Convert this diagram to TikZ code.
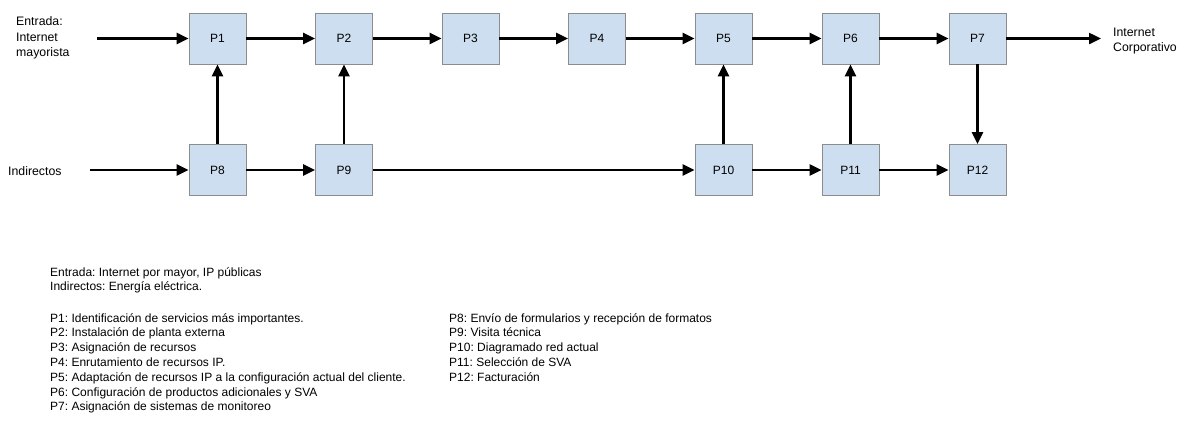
\documentclass[tikz,border=0pt]{standalone}
\usepackage{fontspec}
\setmainfont{Liberation Sans}
\usetikzlibrary{arrows.meta}
\definecolor{boxfill}{RGB}{205,222,240}
\definecolor{boxline}{RGB}{140,140,140}
\frenchspacing
\begin{document}
\begin{tikzpicture}[x=1pt,y=-1pt,
  proc/.style={draw=boxline,line width=0.8pt,fill=boxfill,minimum width=57pt,minimum height=51pt,
    inner sep=0pt,font=\fontsize{12}{14}\selectfont},
  flow/.style={line width=2.4pt,-{Triangle[length=12pt,width=11pt]}},
  lbl/.style={anchor=west,align=left,inner sep=0pt,font=\fontsize{12.3}{15.5}\selectfont},
  note/.style={anchor=north west,align=left,inner sep=0pt,font=\fontsize{12}{14.8}\selectfont}]
\useasboundingbox (0,0) rectangle (1178,421);

% process boxes, upper row
\node[proc] (P1) at (217.5,38.5) {P1};
\node[proc] (P2) at (344,38.5) {P2};
\node[proc] (P3) at (470.5,38.5) {P3};
\node[proc] (P4) at (597,38.5) {P4};
\node[proc] (P5) at (723.5,38.5) {P5};
\node[proc] (P6) at (850.5,38.5) {P6};
\node[proc] (P7) at (977.5,38.5) {P7};
% process boxes, lower row
\node[proc] (P8) at (217.5,170) {P8};
\node[proc] (P9) at (344,170) {P9};
\node[proc] (P10) at (723.5,170) {P10};
\node[proc] (P11) at (850.5,170) {P11};
\node[proc] (P12) at (977.5,170) {P12};

% inputs and output
\node[lbl] (inA) at (16,38) {Entrada:\\Internet\\mayorista};
\node[lbl] (inB) at (8,171) {Indirectos};
\node[lbl] (outA) at (1113,41) {Internet\\Corporativo};
\coordinate (sA) at (97,38.5);
\coordinate (sB) at (90,170);
\coordinate (eA) at (1101,38.5);

\draw[flow] (sA) -- (P1);
\draw[flow] (sB) -- (P8);
\draw[flow] (P7) -- (eA);

% main flow
\draw[flow] (P1) -- (P2);
\draw[flow] (P2) -- (P3);
\draw[flow] (P3) -- (P4);
\draw[flow] (P4) -- (P5);
\draw[flow] (P5) -- (P6);
\draw[flow] (P6) -- (P7);
\draw[flow] (P8) -- (P9);
\draw[flow] (P9) -- (P10);
\draw[flow] (P10) -- (P11);
\draw[flow] (P11) -- (P12);
% vertical links
\draw[flow] (P8) -- (P1);
\draw[flow] (P9) -- (P2);
\draw[flow] (P10) -- (P5);
\draw[flow] (P11) -- (P6);
\draw[flow] (P7) -- (P12);

% legend
\node[note] (legA) at (50,267) {Entrada: Internet por mayor, IP públicas\\Indirectos: Energía eléctrica.};
\node[note] (legB) at (50,313) {P1: Identificación de servicios más importantes.\\
P2: Instalación de planta externa\\
P3: Asignación de recursos\\
P4: Enrutamiento de recursos IP.\\
P5: Adaptación de recursos IP a la configuración actual del cliente.\\
P6: Configuración de productos adicionales y SVA\\
P7: Asignación de sistemas de monitoreo};
\node[note] (legC) at (449,313) {P8: Envío de formularios y recepción de formatos\\
P9: Visita técnica\\
P10: Diagramado red actual\\
P11: Selección de SVA\\
P12: Facturación};
\end{tikzpicture}
\end{document}
